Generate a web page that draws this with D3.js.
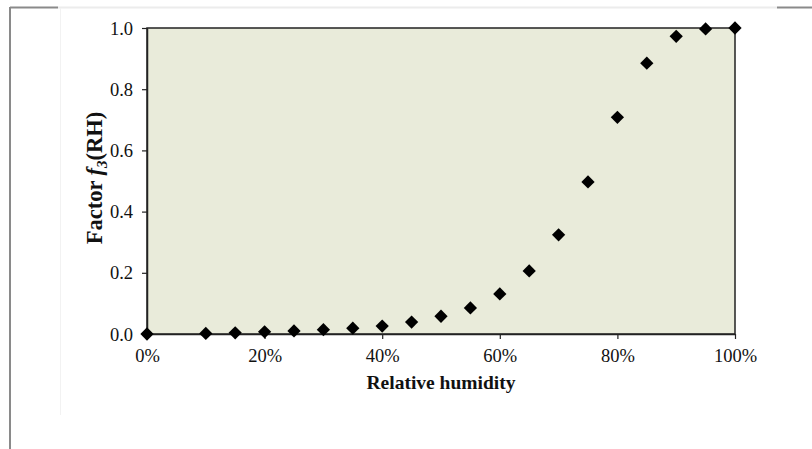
<!DOCTYPE html>
<html><head><meta charset="utf-8">
<script src="https://cdn.jsdelivr.net/npm/d3@7"></script>
<style>body{margin:0;background:#fff;}svg{display:block;}</style>
</head><body>
<svg id="c" width="812" height="449"></svg>
<script>
const rh = [0, 10, 15, 20, 25, 30, 35, 40, 45, 50, 55, 60, 65, 70, 75, 80, 85, 90, 95, 100];
const f3 = [0, 0.002, 0.004, 0.007, 0.010, 0.014, 0.019, 0.026, 0.039, 0.058, 0.085, 0.131, 0.206, 0.324, 0.497, 0.708, 0.885, 0.973, 0.997, 1.0];
const xTicks = [0, 20, 40, 60, 80, 100];
const yTicks = [0, 0.2, 0.4, 0.6, 0.8, 1.0];

const svg = d3.select("#c");
// page frame
svg.append("line").attr("x1",10).attr("x2",10).attr("y1",7).attr("y2",449).attr("stroke","#8a8a8a").attr("stroke-width",2);
svg.append("line").attr("x1",10).attr("x2",58).attr("y1",7.5).attr("y2",7.5).attr("stroke","#8a8a8a").attr("stroke-width",2);
svg.append("line").attr("x1",777).attr("x2",812).attr("y1",7.5).attr("y2",7.5).attr("stroke","#8a8a8a").attr("stroke-width",2);
svg.append("line").attr("x1",58).attr("x2",777).attr("y1",7.5).attr("y2",7.5).attr("stroke","#ececec").attr("stroke-width",2);
svg.append("line").attr("x1",60.5).attr("x2",60.5).attr("y1",8).attr("y2",415).attr("stroke","#f2f2f2").attr("stroke-width",1);

const L=147, R=735, T=28, B=334;
const x = d3.scaleLinear().domain([0,100]).range([L,R]);
const y = d3.scaleLinear().domain([0,1]).range([B,T]);

svg.append("rect").attr("x",L).attr("y",T).attr("width",R-L).attr("height",B-T)
  .attr("fill","#e9ebda").attr("stroke","#222").attr("stroke-width",1.5);

const font = "'Liberation Serif','Times New Roman',serif";
const xa = svg.append("g").attr("transform",`translate(0,${B})`)
  .call(d3.axisBottom(x).tickValues(xTicks).tickFormat(d=>d+"%").tickSize(5).tickSizeOuter(0));
const ya = svg.append("g").attr("transform",`translate(${L},0)`)
  .call(d3.axisLeft(y).tickValues(yTicks).tickFormat(d3.format(".1f")).tickSize(5).tickSizeOuter(0));
[xa,ya].forEach(a=>{
  a.select(".domain").attr("stroke","#222").attr("stroke-width",1.5);
  a.selectAll(".tick line").attr("stroke","#222").attr("stroke-width",1.2);
  a.selectAll("text").attr("font-family",font).attr("font-size",18.5).attr("fill","#111");
});
xa.selectAll("text").attr("y",8).attr("dy",20);
ya.selectAll("text").attr("x",-14).attr("dy","0.33em");

svg.append("text").attr("x",(L+R)/2).attr("y",389).attr("text-anchor","middle")
  .attr("font-family",font).attr("font-size",19.5).attr("font-weight","bold").attr("fill","#111")
  .text("Relative humidity");

const yl = svg.append("text").attr("transform",`translate(102,178) rotate(-90)`)
  .attr("text-anchor","middle").attr("font-family",font).attr("font-size",22.5).attr("font-weight","bold").attr("fill","#111");
yl.append("tspan").text("Factor ");
yl.append("tspan").attr("font-style","italic").text("f");
yl.append("tspan").attr("font-style","italic").attr("font-size",15).attr("dy",5).text("3");
yl.append("tspan").attr("dy",-5).text("(RH)");

const sym = d3.symbol().type(d3.symbolSquare).size(88);
svg.append("g").selectAll("path").data(rh).join("path")
  .attr("d",sym)
  .attr("transform",(d,i)=>`translate(${x(d)},${y(f3[i])}) rotate(45)`)
  .attr("fill","#000");
</script>
</body></html>
